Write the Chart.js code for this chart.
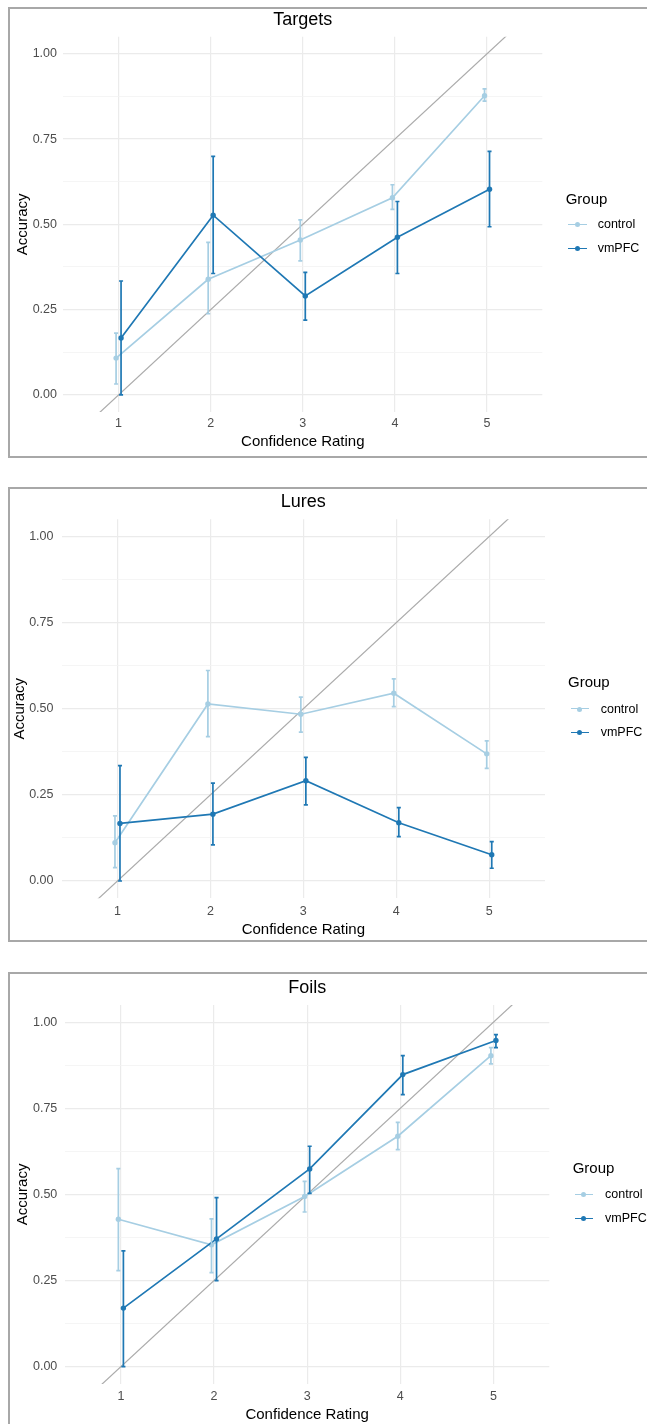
<!DOCTYPE html>
<html>
<head>
<meta charset="utf-8">
<script src="https://cdn.jsdelivr.net/npm/chart.js@4.4.1/dist/chart.umd.min.js"></script>
<style>
  html, body { margin: 0; padding: 0; background: #fff; }
  body { width: 647px; height: 1424px; position: relative; overflow: hidden;
         font-family: 'Liberation Sans', Arial, sans-serif; }
  .frame { position: absolute; border: 2px solid #a8a8a8; box-sizing: border-box; width: 700px; }
  canvas { position: absolute; left: 0; }
  .lg { position: absolute; white-space: nowrap; color: #000; }
  .lg-title { font-size: 15px; line-height: 15px; }
  .lg-item { font-size: 12.5px; line-height: 12.5px; }
  .lg-key { position: absolute; height: 0; }
  .lg-dot { position: absolute; border-radius: 50%; }
</style>
</head>
<body>
<div class="frame" style="left:7.5px; top:7.3px; height:451px;"></div>
<div class="frame" style="left:8px; top:487.3px; height:454.5px;"></div>
<div class="frame" style="left:8px; top:971.7px; height:600px;"></div>
<canvas id="targets"></canvas>
<canvas id="lures"></canvas>
<canvas id="foils"></canvas>
<script>
// Confidence ratings on the x axis and accuracy ticks on the y axis
const confidence = [1, 2, 3, 4, 5];
const yMajorTicks = [0, 0.25, 0.5, 0.75, 1];
const yMinorTicks = [0.125, 0.375, 0.625, 0.875];
const groups = ['control', 'vmPFC'];
const groupColors = ['#a6cee3', '#1f78b4'];

// Perfect calibration: rating 1 -> 0, rating 5 -> 1
const calibSlope = 0.25;
const calibIntercept = -0.25;

// Targets: mean accuracy with error-bar bounds
const targetsControl     = [0.108, 0.339, 0.454, 0.578, 0.877];
const targetsControlLow  = [0.032, 0.238, 0.393, 0.544, 0.861];
const targetsControlHigh = [0.181, 0.447, 0.513, 0.616, 0.897];
const targetsVmpfc       = [0.167, 0.527, 0.290, 0.462, 0.603];
const targetsVmpfcLow    = [0.000, 0.356, 0.219, 0.356, 0.493];
const targetsVmpfcHigh   = [0.334, 0.699, 0.359, 0.567, 0.714];

// Lures
const luresControl     = [0.111, 0.514, 0.484, 0.545, 0.369];
const luresControlLow  = [0.039, 0.419, 0.432, 0.506, 0.327];
const luresControlHigh = [0.189, 0.611, 0.534, 0.587, 0.407];
const luresVmpfc       = [0.167, 0.194, 0.291, 0.169, 0.076];
const luresVmpfcLow    = [0.000, 0.105, 0.221, 0.129, 0.037];
const luresVmpfcHigh   = [0.335, 0.284, 0.359, 0.213, 0.114];

// Foils
const foilsControl     = [0.428, 0.354, 0.494, 0.669, 0.903];
const foilsControlLow  = [0.279, 0.273, 0.449, 0.630, 0.879];
const foilsControlHigh = [0.575, 0.429, 0.538, 0.709, 0.926];
const foilsVmpfc       = [0.170, 0.371, 0.574, 0.848, 0.947];
const foilsVmpfcLow    = [0.000, 0.250, 0.503, 0.790, 0.926];
const foilsVmpfcHigh   = [0.336, 0.491, 0.640, 0.903, 0.964];

const FONT = "'Liberation Sans', Arial, sans-serif";
Chart.defaults.font.family = FONT;

// horizontal dodge between the two groups (in rating units)
const dodge = [-0.027, 0.027];
const capHalf = 0.022;
const xRange = [0.4, 5.6];
const yRange = [-0.05, 1.05];

// Panel layout (page pixels)
const panels = [
  { id: 'targets', title: 'Targets',
    mean: [targetsControl, targetsVmpfc],
    low:  [targetsControlLow, targetsVmpfcLow],
    high: [targetsControlHigh, targetsVmpfcHigh],
    top: 0, height: 451, left: 63.3, right: 542.3, plotTop: 36.7, plotBottom: 412,
    titleY: 20, tickY: 424, xTitleY: 442, yLabelRight: 57, yTitleX: 22.5,
    legend: { titleX: 565.7, titleY: 198, keyX: 568, keyW: 19, textX: 597.7, itemY: [224.3, 248.3] } },
  { id: 'lures', title: 'Lures',
    mean: [luresControl, luresVmpfc],
    low:  [luresControlLow, luresVmpfcLow],
    high: [luresControlHigh, luresVmpfcHigh],
    top: 460, height: 479, left: 61.7, right: 545, plotTop: 519.3, plotBottom: 898.2,
    titleY: 501.7, tickY: 911.7, xTitleY: 930, yLabelRight: 53.5, yTitleX: 20,
    legend: { titleX: 568, titleY: 681.7, keyX: 570.7, keyW: 18, textX: 600.7, itemY: [709, 732.3] } },
  { id: 'foils', title: 'Foils',
    mean: [foilsControl, foilsVmpfc],
    low:  [foilsControlLow, foilsVmpfcLow],
    high: [foilsControlHigh, foilsVmpfcHigh],
    top: 950, height: 474, left: 65, right: 549.3, plotTop: 1005, plotBottom: 1383.9,
    titleY: 987.7, tickY: 1396.7, xTitleY: 1415, yLabelRight: 57.3, yTitleX: 22.5,
    legend: { titleX: 572.7, titleY: 1167.3, keyX: 575, keyW: 17.5, textX: 605, itemY: [1194.3, 1218.3] } }
];

// Vertical error bars with small caps, drawn from each dataset's bounds
const errorBars = {
  id: 'errorBars',
  afterDatasetsDraw(chart) {
    const { ctx, scales: { x, y } } = chart;
    chart.data.datasets.forEach(ds => {
      if (!ds.errLow) return;
      ctx.save();
      ctx.strokeStyle = ds.borderColor;
      ctx.lineWidth = 1.7;
      ds.data.forEach((pt, k) => {
        const px = x.getPixelForValue(pt.x);
        const cl = x.getPixelForValue(pt.x - capHalf);
        const cr = x.getPixelForValue(pt.x + capHalf);
        const y0 = y.getPixelForValue(ds.errLow[k]);
        const y1 = y.getPixelForValue(ds.errHigh[k]);
        ctx.beginPath();
        ctx.moveTo(px, y0); ctx.lineTo(px, y1);
        ctx.moveTo(cl, y0); ctx.lineTo(cr, y0);
        ctx.moveTo(cl, y1); ctx.lineTo(cr, y1);
        ctx.stroke();
      });
      ctx.restore();
    });
  }
};

function buildLegend(p) {
  const L = p.legend;
  const t = document.createElement('div');
  t.className = 'lg lg-title';
  t.textContent = 'Group';
  t.style.left = L.titleX + 'px';
  t.style.top = (L.titleY - 7.5) + 'px';
  document.body.appendChild(t);
  groups.forEach((g, i) => {
    const key = document.createElement('div');
    key.className = 'lg-key';
    key.style.left = L.keyX + 'px';
    key.style.width = L.keyW + 'px';
    key.style.top = (L.itemY[i] - 0.8) + 'px';
    key.style.borderTop = '1.6px solid ' + groupColors[i];
    document.body.appendChild(key);
    const dot = document.createElement('div');
    dot.className = 'lg-dot';
    dot.style.width = dot.style.height = '5px';
    dot.style.left = (L.keyX + L.keyW / 2 - 2.5) + 'px';
    dot.style.top = (L.itemY[i] - 2.5) + 'px';
    dot.style.background = groupColors[i];
    document.body.appendChild(dot);
    const lab = document.createElement('div');
    lab.className = 'lg lg-item';
    lab.textContent = g;
    lab.style.left = L.textX + 'px';
    lab.style.top = (L.itemY[i] - 6.5) + 'px';
    document.body.appendChild(lab);
  });
}

function buildChart(p) {
  const canvas = document.getElementById(p.id);
  const width = 647;
  canvas.width = width;
  canvas.height = p.height;
  canvas.style.width = width + 'px';
  canvas.style.height = p.height + 'px';
  canvas.style.top = p.top + 'px';

  const datasets = groups.map((g, i) => ({
    label: g,
    data: confidence.map((c, k) => ({ x: c + dodge[i], y: p.mean[i][k] })),
    errLow: p.low[i],
    errHigh: p.high[i],
    borderColor: groupColors[i],
    backgroundColor: groupColors[i],
    borderWidth: 1.7,
    pointRadius: 2.7,
    pointBorderWidth: 0,
    pointHoverRadius: 2.7,
    tension: 0,
    order: 2 - i
  }));
  datasets.push({
    label: 'calibration',
    data: xRange.map(x => ({ x, y: calibIntercept + calibSlope * x })),
    borderColor: '#ababab',
    borderWidth: 1.2,
    pointRadius: 0,
    clip: 0,
    order: 5
  });

  new Chart(canvas, {
    type: 'line',
    data: { datasets },
    plugins: [errorBars],
    options: {
      responsive: false,
      animation: false,
      devicePixelRatio: 1,
      events: [],
      layout: { padding: { left: 0, top: 0, bottom: 0, right: width - p.right } },
      plugins: {
        legend: { display: false },
        tooltip: { enabled: false },
        title: { display: false }
      },
      scales: {
        // top axis only carries the panel title, centred over the plot
        panelTitle: {
          type: 'linear', position: 'top', display: true,
          min: xRange[0], max: xRange[1],
          afterFit: s => { s.height = p.plotTop - p.top; },
          ticks: { display: false },
          grid: { display: false },
          border: { display: false },
          title: { display: true, text: p.title, color: '#000',
                   font: { size: 18, lineHeight: 1.2 },
                   padding: { top: p.titleY - p.top - 10.8, bottom: 0 } }
        },
        x: {
          type: 'linear', position: 'bottom', min: xRange[0], max: xRange[1],
          afterBuildTicks: s => { s.ticks = confidence.map(v => ({ value: v })); },
          afterFit: s => { s.height = p.height - (p.plotBottom - p.top); },
          ticks: { autoSkip: false, maxRotation: 0, color: '#4d4d4d',
                   font: { size: 12.5, lineHeight: 1.2 },
                   padding: p.tickY - p.plotBottom - 7.5,
                   callback: v => String(v) },
          grid: { color: '#ebebeb', lineWidth: 1.2, drawTicks: false },
          border: { display: false },
          title: { display: true, text: 'Confidence Rating', color: '#000',
                   font: { size: 15, lineHeight: 1.2 },
                   padding: { top: 0, bottom: p.top + p.height - p.xTitleY - 9 } }
        },
        y: {
          type: 'linear', position: 'left', min: yRange[0], max: yRange[1],
          afterBuildTicks: s => {
            s.ticks = yMajorTicks.concat(yMinorTicks).sort((a, b) => a - b).map(v => ({ value: v }));
          },
          afterFit: s => { s.width = p.left; },
          ticks: { autoSkip: false, color: '#4d4d4d',
                   font: { size: 12.5, lineHeight: 1.2 },
                   padding: p.left - p.yLabelRight,
                   callback: v => yMajorTicks.includes(v) ? v.toFixed(2) : '' },
          grid: {
            color: c => yMajorTicks.includes(c.tick.value) ? '#ebebeb' : '#f3f3f3',
            lineWidth: c => yMajorTicks.includes(c.tick.value) ? 1.2 : 0.8,
            drawTicks: false
          },
          border: { display: false },
          title: { display: true, text: 'Accuracy', color: '#000',
                   font: { size: 15, lineHeight: 1.2 },
                   padding: { top: p.yTitleX - 9, bottom: 0 } }
        }
      }
    }
  });
  buildLegend(p);
}

panels.forEach(buildChart);
</script>
</body>
</html>
